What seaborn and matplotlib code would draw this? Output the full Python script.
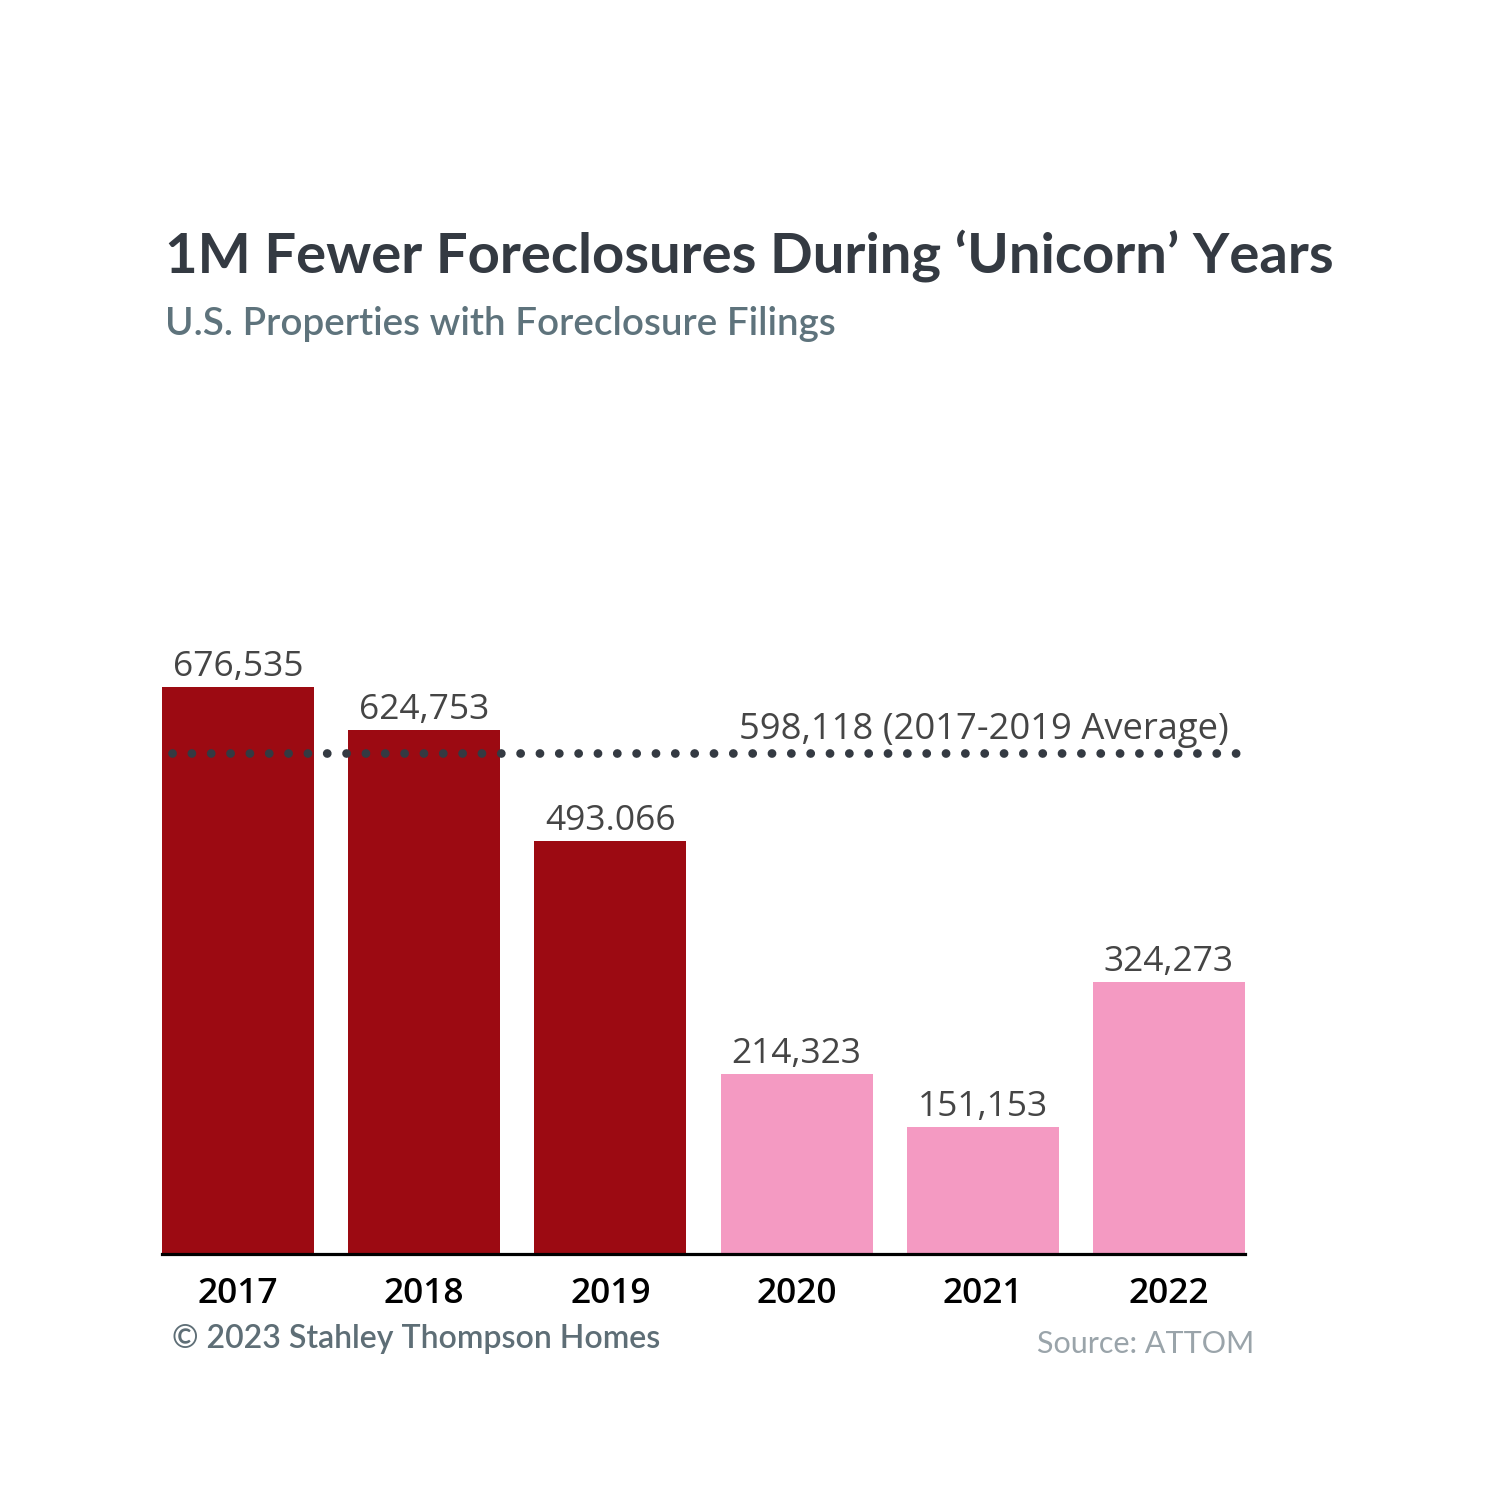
import matplotlib
matplotlib.use("Agg")
import matplotlib.pyplot as plt
import seaborn as sns
import pandas as pd

# ---- data ----
years = ["2017", "2018", "2019", "2020", "2021", "2022"]
filings = [676535, 624753, 493066, 214323, 151153, 324273]
value_labels = ["676,535", "624,753", "493.066", "214,323", "151,153", "324,273"]
bar_colors = ["#9C0A12", "#9C0A12", "#9C0A12", "#F49AC2", "#F49AC2", "#F49AC2"]
average_value = 598118
average_label = "598,118 (2017-2019 Average)"
title = "1M Fewer Foreclosures During \u2018Unicorn\u2019 Years"
subtitle = "U.S. Properties with Foreclosure Filings"
credit = "\u00a9 2023 Stahley Thompson Homes"
source = "Source: ATTOM"

df = pd.DataFrame({"year": years, "filings": filings})

sns.set_theme(style="white")
plt.rcParams["font.family"] = ["Open Sans", "DejaVu Sans"]

W = H = 1500
fig = plt.figure(figsize=(15, 15), dpi=100)
fig.patch.set_facecolor("white")

def fx(x):
    return x / W

def fy(y):
    return 1 - y / H

# axes: baseline at y=1254px, left 162px, width 1083px
y_top_val = 800000
px_per_unit = 567 / 676535
ax_h = y_top_val * px_per_unit
ax = fig.add_axes([fx(162), fy(1254), 1083 / W, ax_h / H])

sns.barplot(data=df, x="year", y="filings", hue="year", palette=bar_colors,
            width=0.817, legend=False, ax=ax, saturation=1, linewidth=0)

ax.set_xlim(-0.4086, 5.4086)
ax.set_ylim(0, y_top_val)
ax.set_xlabel("")
ax.set_ylabel("")
ax.set_yticks([])
ax.set_xticks([])
for s in ["top", "right", "left"]:
    ax.spines[s].set_visible(False)
ax.spines["bottom"].set_color("black")
ax.spines["bottom"].set_linewidth(2.3)
ax.spines["bottom"].set_zorder(5)
ax.set_facecolor("none")

# value labels
for i, (v, lab) in enumerate(zip(filings, value_labels)):
    ax.annotate(lab, xy=(i, v), xytext=(0, 8), textcoords="offset points",
                ha="center", va="baseline", fontsize=25.5, color="#454545")

# year labels
for i, yr in enumerate(years):
    ax.annotate(yr, xy=(i, 0), xytext=(0, -35), textcoords="offset points",
                ha="center", va="baseline", fontsize=25.5, color="black",
                fontweight="semibold", annotation_clip=False)

# average dotted line
ax.plot([-0.355, 5.395], [average_value, average_value], color="#343A42",
        linewidth=6.3, linestyle=(0, (0.01, 2.2)), dash_capstyle="round",
        solid_capstyle="round", zorder=6)
ax.annotate(average_label, xy=(5.32, average_value), xytext=(0, 10),
            textcoords="offset points", ha="right", va="baseline",
            fontsize=26.2, color="#454545", annotation_clip=False)

# titles
fig.text(fx(165), fy(273), title, fontsize=40.5, fontweight="bold",
         color="#343A42", ha="left", va="baseline", family=["Lato", "DejaVu Sans"])
fig.text(fx(165), fy(335), subtitle, fontsize=27.8, color="#5E737C",
         ha="left", va="baseline", family=["Lato", "DejaVu Sans"], fontweight="semibold")

fig.text(fx(172), fy(1348), credit, fontsize=23, color="#5E6E76",
         ha="left", va="baseline", family=["Lato", "DejaVu Sans"], fontweight="semibold")
fig.text(fx(1254), fy(1353), source, fontsize=22, color="#9AA4AA",
         ha="right", va="baseline", family=["Lato", "DejaVu Sans"])

fig.savefig("out.png", dpi=100, facecolor="white")
